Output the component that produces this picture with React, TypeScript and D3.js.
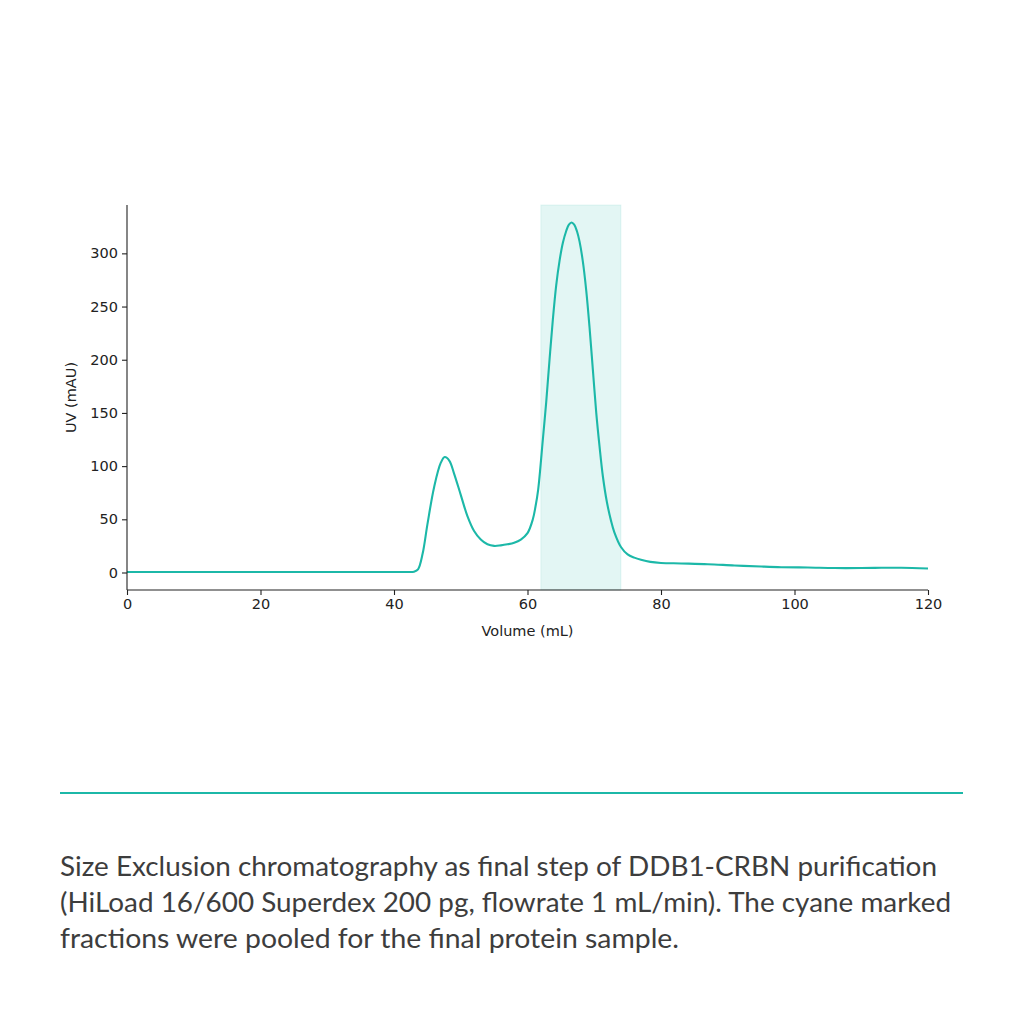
import React, { useRef, useEffect } from 'react';
import * as d3 from 'd3';

// elution volume (mL) and UV absorbance (mAU)
const volume = [0, 10, 20, 30, 40, 42, 43, 43.6, 44.3, 45, 46, 47, 47.6, 48.3, 49, 50, 51, 52, 53, 54, 55, 56, 57, 58, 59, 60, 60.8, 61.2, 61.6, 62.3, 62.8, 63.3, 63.8, 64.3, 64.8, 65.3, 65.8, 66.2, 66.6, 67, 67.4, 67.8, 68.3, 68.8, 69.3, 69.8, 70.3, 70.8, 71.3, 71.9, 72.5, 73, 74, 75, 76, 77, 78.4, 80, 83, 87, 91, 95, 98, 102, 106, 110, 113, 116, 120];
const uv = [0.5, 0.5, 0.5, 0.5, 0.5, 0.5, 0.8, 3, 18, 45, 80, 103, 108.5, 105, 93, 73, 53, 39, 31, 26.5, 25, 25.5, 26.5, 28, 31, 37, 50, 62, 78, 125, 160, 200, 238, 270, 293, 310, 321, 327, 329, 327, 321, 311, 292, 265, 230, 190, 150, 118, 90, 66, 49, 38, 24, 17, 14, 12, 10, 9, 8.5, 7.8, 6.6, 5.6, 5, 4.7, 4.2, 4.2, 4.4, 4.5, 3.8];

const pooled = [62, 74];
const xTicks = [0, 20, 40, 60, 80, 100, 120];
const yTicks = [0, 50, 100, 150, 200, 250, 300];

const caption = [
    'Size Exclusion chromatography as final step of DDB1-CRBN purification',
    '(HiLoad 16/600 Superdex 200 pg, flowrate 1 mL/min). The cyane marked',
    'fractions were pooled for the final protein sample.',
];
const captionWidths = [877, 891, 619];

const teal = '#1cb8a8';

const App = () => {
    const svgRef = useRef(null);

    useEffect(() => {
        const svg = d3.select(svgRef.current);
        svg.selectAll('*').remove();
        const width = 1024, height = 1024;
        const margin = { top: 205, right: 96, bottom: 434, left: 127 };

        svg.attr('viewBox', [0, 0, width, height]);

        const x = d3.scaleLinear().domain([0, 120]).range([margin.left, width - margin.right]);
        const yMax = d3.max(uv);
        const pad = yMax * 0.05;
        const y = d3.scaleLinear().domain([-pad, yMax + pad]).range([height - margin.bottom, margin.top]);

        const tickFont = 'DejaVu Sans, sans-serif';

        // pooled fractions
        svg.append('rect')
            .attr('x', x(pooled[0]))
            .attr('y', y.range()[1])
            .attr('width', x(pooled[1]) - x(pooled[0]))
            .attr('height', y.range()[0] - y.range()[1])
            .attr('fill', teal)
            .attr('fill-opacity', 0.12)
            .attr('stroke', teal)
            .attr('stroke-opacity', 0.1);

        const data = volume.map((v, i) => [v, uv[i]]);
        const line = d3.line().x(d => x(d[0])).y(d => y(d[1])).curve(d3.curveCatmullRom.alpha(0.5));
        svg.append('path')
            .datum(data)
            .attr('d', line)
            .attr('fill', 'none')
            .attr('stroke', teal)
            .attr('stroke-width', 2.1)
            .attr('stroke-linejoin', 'round');

        const xAxis = svg.append('g')
            .attr('transform', `translate(0,${y.range()[0]})`)
            .call(d3.axisBottom(x).tickValues(xTicks).tickSize(5).tickPadding(4));
        const yAxis = svg.append('g')
            .attr('transform', `translate(${margin.left},0)`)
            .call(d3.axisLeft(y).tickValues(yTicks).tickSize(5).tickPadding(4));

        [xAxis, yAxis].forEach(g => {
            g.select('.domain').attr('stroke', '#222').attr('stroke-width', 1.1);
            g.selectAll('.tick line').attr('stroke', '#222').attr('stroke-width', 1.1);
            g.selectAll('.tick text')
                .attr('fill', '#222')
                .style('font-family', tickFont)
                .style('font-size', '14.5px');
        });
        xAxis.select('.domain').attr('d', `M${x.range()[0]},0H${x.range()[1]}`);
        yAxis.select('.domain').attr('d', `M0,${y.range()[0]}V${y.range()[1]}`);

        svg.append('text')
            .attr('x', (x.range()[0] + x.range()[1]) / 2)
            .attr('y', 636)
            .attr('text-anchor', 'middle')
            .attr('fill', '#222')
            .style('font-family', tickFont)
            .style('font-size', '14.5px')
            .text('Volume (mL)');

        svg.append('text')
            .attr('transform', `translate(76,${(y.range()[0] + y.range()[1]) / 2}) rotate(-90)`)
            .attr('text-anchor', 'middle')
            .attr('fill', '#222')
            .style('font-family', tickFont)
            .style('font-size', '14.5px')
            .text('UV (mAU)');

        // separator and caption
        svg.append('line')
            .attr('x1', 60).attr('x2', 963)
            .attr('y1', 793).attr('y2', 793)
            .attr('stroke', teal)
            .attr('stroke-width', 2);

        svg.append('g')
            .selectAll('text')
            .data(caption)
            .join('text')
            .attr('x', 60)
            .attr('y', (d, i) => 875.5 + i * 36)
            .attr('textLength', (d, i) => captionWidths[i])
            .attr('lengthAdjust', 'spacingAndGlyphs')
            .attr('fill', '#3d3d3d')
            .style('font-family', 'Lato, "Open Sans", sans-serif')
            .style('font-size', '26px')
            .text(d => d);
    }, []);

    return (
        <svg ref={svgRef} width={1024} height={1024}
            style={{ position: 'absolute', left: 0, top: 0, display: 'block', background: '#fff' }} />
    );
};

export default App;
